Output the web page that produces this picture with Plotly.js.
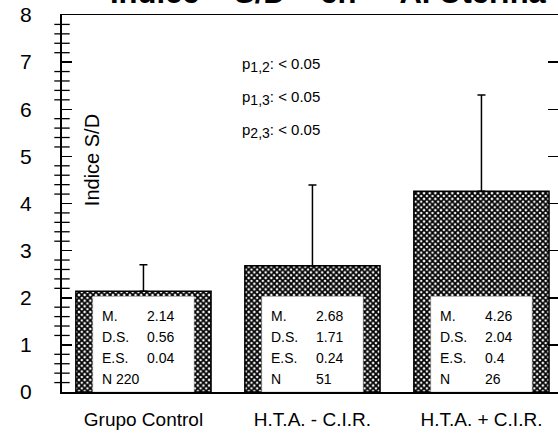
<!DOCTYPE html>
<html>
<head>
<meta charset="utf-8">
<script src="https://cdn.plot.ly/plotly-3.0.1.min.js"></script>
<style>html,body{margin:0;padding:0;background:#fff;}#chart{width:558px;height:435px;}</style>
</head>
<body>
<div id="chart"></div>
<script>
// ---- data ----
const categories = ['Grupo Control', 'H.T.A. - C.I.R.', 'H.T.A. + C.I.R.'];
const means = [2.14, 2.68, 4.26];
const sds = [0.56, 1.71, 2.04];
const ses = [0.04, 0.24, 0.4];
const ns = [220, 51, 26];
const statLabels = ['M.', 'D.S.', 'E.S.', 'N'];
const pLabels = ['1,2', '1,3', '2,3'];
const pValues = ['< 0.05', '< 0.05', '< 0.05'];
const yTitle = 'Indice S/D';
const titleWords = ['Indice', 'S/D', 'en', 'A. Uterina'];

// ---- layout helpers ----
const FONT = 'Liberation Sans, Arial, Helvetica, sans-serif';
const xIdx = categories.map((c, i) => i);
const xRange = [-0.482, 2.453];
const innerTop = 2.03;
const yMax = 8, minorStep = 0.2;
const nb = n => '\u00a0'.repeat(n);

// minor tick positions on the left axis (axis decoration, derived from the axis range)
const minorY = [];
for (let k = 1; k < Math.round(yMax / minorStep); k++) {
  if (k % 5 !== 0) minorY.push(k * minorStep);
}

const traces = [
  {
    type: 'bar',
    x: xIdx,
    y: means,
    width: 0.8,
    marker: {
      color: '#777',
      line: {color: '#000', width: 1.5},
      pattern: {shape: 'x', size: 4, solidity: 0.7, fgcolor: '#000', bgcolor: '#fff', fillmode: 'replace'}
    },
    error_y: {
      type: 'data', symmetric: false, array: sds, arrayminus: sds.map(() => 0),
      color: '#000', thickness: 1.5, width: 4
    },
    hoverinfo: 'skip',
    showlegend: false
  },
  {
    type: 'bar',
    x: xIdx,
    y: xIdx.map(() => innerTop),
    width: 0.6,
    marker: {color: '#fff', line: {color: '#999', width: 0.5}},
    hoverinfo: 'skip',
    showlegend: false
  },
  {
    // minor ticks drawn as short horizontal markers on the left axis line
    type: 'scatter', mode: 'markers',
    x: minorY.map(() => xRange[0]), y: minorY,
    marker: {symbol: 'line-ew', size: 11, color: '#000', line: {color: '#000', width: 1.3}},
    cliponaxis: false, hoverinfo: 'skip', showlegend: false
  }
];

const annotations = [];
// stats inside bars
const rowY = [1.62, 1.17, 0.72, 0.27];
xIdx.forEach(i => {
  const vals = [means[i].toFixed(2), sds[i].toFixed(2), String(ses[i]), String(ns[i])];
  statLabels.forEach((lab, r) => {
    let labText = lab, valText = vals[r];
    if (r === 3 && String(ns[i]).length > 2) { labText = lab + ' ' + vals[r]; valText = ''; }
    annotations.push({x: i - 0.255, y: rowY[r], xref: 'x', yref: 'y', text: labText,
      showarrow: false, xanchor: 'left', yanchor: 'middle', font: {family: FONT, size: 14, color: '#000'}});
    if (valText) annotations.push({x: i + 0.01, y: rowY[r], xref: 'x', yref: 'y', text: valText,
      showarrow: false, xanchor: 'left', yanchor: 'middle', font: {family: FONT, size: 14, color: '#000'}});
  });
});
// p-values
const pY = [6.94, 6.24, 5.54];
pLabels.forEach((p, k) => {
  annotations.push({x: 0.57, y: pY[k], xref: 'x', yref: 'y',
    text: 'p<sub><span style="font-size:14px">' + p + '</span></sub>: ' + pValues[k],
    showarrow: false, xanchor: 'left', yanchor: 'middle',
    font: {family: FONT, size: 15, color: '#000'}});
});
// y title inside plot
annotations.push({x: 0.0605, y: 4.92, xref: 'paper', yref: 'y', text: yTitle, textangle: -90,
  showarrow: false, xanchor: 'center', yanchor: 'middle', font: {family: FONT, size: 20, color: '#000'}});
// main title (cut off at top)
annotations.push({x: 0.537, y: 1, xref: 'paper', yref: 'paper', yanchor: 'bottom', xanchor: 'center', yshift: 2.5,
  text: titleWords[0] + nb(4) + titleWords[1] + nb(4) + titleWords[2] + nb(5) + titleWords[3],
  showarrow: false, font: {family: FONT, size: 31, color: '#000', weight: 'bold'}});

const layout = {
  width: 558, height: 435,
  margin: {l: 62, r: 0, t: 15, b: 43},
  paper_bgcolor: '#fff', plot_bgcolor: '#fff',
  barmode: 'overlay',
  showlegend: false,
  xaxis: {
    range: xRange,
    tickmode: 'array', tickvals: xIdx, ticktext: categories,
    ticks: '', showgrid: false, zeroline: false,
    showline: true, linecolor: '#000', linewidth: 1.5, mirror: true,
    ticklabelstandoff: 10,
    tickfont: {family: FONT, size: 19, color: '#000'}
  },
  yaxis: {
    range: [0, yMax],
    tickmode: 'linear', tick0: 0, dtick: 1,
    ticks: 'inside', ticklen: 10, tickwidth: 1.5, tickcolor: '#000',
    showgrid: false, zeroline: false,
    showline: true, linecolor: '#000', linewidth: 2, mirror: 'ticks',
    ticklabelstandoff: 24,
    tickfont: {family: FONT, size: 21, color: '#000'}
  },
  annotations: annotations
};

Plotly.newPlot('chart', traces, layout, {staticPlot: true, displayModeBar: false});
</script>
</body>
</html>
